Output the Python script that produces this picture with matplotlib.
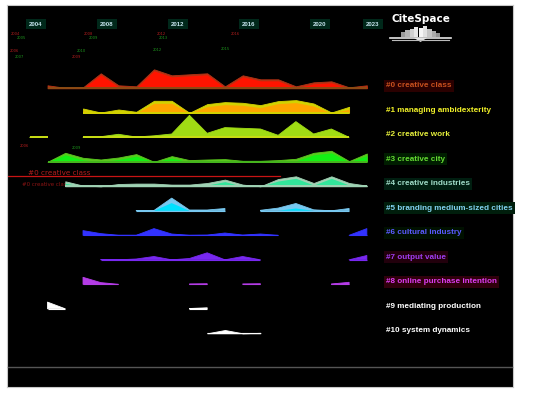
import numpy as np
import matplotlib
matplotlib.use("Agg")
import matplotlib.pyplot as plt
from matplotlib.patches import Rectangle, Polygon

nan = np.nan

# ---------------- data ----------------
year_ticks = [2004, 2008, 2012, 2016, 2020, 2023]

cluster_labels = ["#0 creative class", "#1 managing ambidexterity", "#2 creative work",
                  "#3 creative city", "#4 creative industries", "#5 branding medium-sized cities",
                  "#6 cultural industry", "#7 output value", "#8 online purchase intention",
                  "#9 mediating production", "#10 system dynamics"]

c0_years = list(range(2004, 2023))
c0_vals = [3, 0.5, 1, 15, 3, 2, 19, 13, 14, 15, 2, 13, 9, 9, 2, 6, 7, 1, 3]

c1_years = list(range(2006, 2022))
c1_vals = [4.3, 0.3, 3.3, 1, 12, 12, 0, 8.7, 10.7, 10, 7.7, 11.7, 12.7, 9.3, 0.3, 6]

c2_years = list(range(2003, 2022))
c2_vals = [0, 0.5, nan, 0, 0.6, 3, 0.3, 1.5, 3.3, 22, 4, 9.7, 9, 8.3, 2, 15.7, 3.3, 8.3, 0]

c3_years = list(range(2004, 2023))
c3_vals = [0, 9, 4, 2.3, 4.3, 7.7, 0, 5.7, 1.7, 2.3, 2.7, 1, 1, 1.7, 3, 9, 11, 0.7, 8.3]

c4_years = list(range(2005, 2023))
c4_vals = [5, 0.7, 0, 2.3, 2.7, 2.7, 1.7, 1.7, 3.3, 6.7, 1.7, 0, 7.3, 10, 3.3, 10, 3.3, 0.7]

c5_years = list(range(2009, 2022))
c5_vals = [0.3, 0.3, 12.7, 0.8, 0.8, 2.3, nan, 0.5, 2.7, 7.3, 1, 0, 2.3]

c6_years = list(range(2006, 2023))
c6_vals = [4.7, 1.7, 0, 0, 6.7, 1.3, 0, 0.2, 2.3, 0.2, 1.3, 0, nan, nan, nan, 0, 6.7]

c7_years = list(range(2007, 2023))
c7_vals = [0.3, 0, 0.8, 3.3, 0, 1.3, 7, 0, 3.3, 0, nan, nan, nan, nan, 0, 4.3]

c8_years = list(range(2006, 2022))
c8_vals = [7, 1.7, 0, nan, nan, nan, 0.3, 0.5, nan, 0.3, 0.5, nan, nan, nan, 0.3, 2]

c9_years = list(range(2004, 2014))
c9_vals = [6.7, 0, nan, nan, nan, nan, nan, nan, 0.3, 1]

c10_years = list(range(2013, 2017))
c10_vals = [0, 3.3, 0, 0.5]

clusters = [(c0_years, c0_vals), (c1_years, c1_vals), (c2_years, c2_vals), (c3_years, c3_vals),
            (c4_years, c4_vals), (c5_years, c5_vals), (c6_years, c6_vals), (c7_years, c7_vals),
            (c8_years, c8_vals), (c9_years, c9_vals), (c10_years, c10_vals)]

# ---------------- style ----------------
back_cols = ['#b43214', '#d2d200', '#a0dc14', '#5ac81e', '#a0d2b4', '#78c8f0',
             '#3232ff', '#7828f0', '#b43ce6', '#ffffff', '#ffffff']
front_cols = ['#ff1400', '#ffa500', '#96e60f', '#14f014', '#32e69b', '#00e1ff',
              '#3232ff', '#7828f0', '#b43ce6', '#ffffff', '#ffffff']
front_off = [1.5, 2.5, 0, 2, 2, 5, 0, 0, 0, 0, 0]
base_cols = ['#8c4b14', '#d2d200', '#c8dc14', '#46b41e', '#a0d2b4', '#78c8f0',
             '#3232ff', '#7828f0', '#b43ce6', '#ffffff', '#ffffff']
label_cols = ['#c8501e', '#f0f028', '#e6f03c', '#64dc32', '#a0dcc8', '#82d2f0',
              '#5a5aff', '#a03cf0', '#dc3cf0', '#ffffff', '#ffffff']
label_bg = ['#2a0000', '#000000', '#000000', '#001e00', '#001e10', '#001e0c',
            '#001000', '#22000c', '#30000c', '#000000', '#000000']

W, H = 550, 395
fig = plt.figure(figsize=(5.5, 3.95), dpi=100, facecolor='white')

px_per_year = 17.74
x_left = 2004 + (7 - 36) / px_per_year
x_right = 2004 + (513 - 36) / px_per_year

ax = fig.add_axes([7 / W, (H - 387) / H, 506 / W, 382 / H])
ax.set_facecolor('black')
ax.set_xlim(x_left, x_right)
ax.set_ylim(387, 5)
ax.set_xticks([])
ax.set_yticks([])
for s in ax.spines.values():
    s.set_color('#c8c8c8')
    s.set_linewidth(0.8)

slot = 0.65
row0 = 88.3
row_gap = 24.5

for i, (yrs, vals) in enumerate(clusters):
    x = np.array(yrs, dtype=float) + slot
    v = np.array(vals, dtype=float)
    base = row0 + row_gap * i
    ax.fill_between(x, base, base - v, color=back_cols[i], lw=0.6, ec=back_cols[i], zorder=3)
    if front_off[i] > 0:
        fv = np.where(np.isnan(v), nan, np.clip(v - front_off[i], 0, None))
        ax.fill_between(x, base, base - fv, color=front_cols[i], lw=0, zorder=4)
    bl = np.where(np.isnan(v), nan, base)
    ax.plot(x, bl, color=base_cols[i], lw=1.4 if i < 5 else 0.8, zorder=5,
            solid_capstyle='butt')
    ax.text(2023.73, base - 2.5, cluster_labels[i], color=label_cols[i], fontsize=5.9,
            fontweight='bold', family='Liberation Sans', va='center', ha='left', zorder=6,
            bbox=dict(boxstyle='square,pad=0.3', fc=label_bg[i], ec='none'))

# year labels
for yv in year_ticks:
    ax.text(yv, 24, str(yv), color='#c8e6f0', fontsize=4.3, fontweight='bold',
            family='Liberation Sans', ha='center', va='center', zorder=6,
            bbox=dict(boxstyle='square,pad=0.5', fc='#00281a', ec='none'))

# clutter node labels (tiny)
tiny = [(2002.6, 34, '2004', '#b41e1e'), (2002.9, 38, '2005', '#1e961e'),
        (2002.5, 51, '2006', '#b41e1e'), (2002.8, 57, '2007', '#1e961e'),
        (2006.7, 34, '2008', '#b41e1e'), (2007.0, 38, '2009', '#1e961e'),
        (2006.3, 51, '2010', '#1e961e'), (2006.0, 57, '2009', '#b41e1e'),
        (2010.8, 34, '2012', '#b41e1e'), (2010.9, 38, '2013', '#1e961e'),
        (2010.6, 50, '2012', '#1e961e'), (2015.0, 34, '2016', '#b41e1e'),
        (2014.4, 49, '2015', '#1e961e'), (2003.1, 146, '2006', '#b41e1e'),
        (2006.0, 148, '2009', '#1e961e')]
for tx, ty, ts, tc in tiny:
    ax.text(tx, ty, ts, color=tc, fontsize=2.6, ha='left', va='center', zorder=2)

# red annotation line with label
ax.plot([x_left, 2004 + (280 - 36) / px_per_year], [176.3, 176.3], color='#c81414', lw=0.9, zorder=2)
ax.text(2003.55, 173.3, '#0 creative class', color='#b41e1e', fontsize=5.2, ha='left', va='center', zorder=2)
ax.text(2003.2, 184.5, '#0 creative class', color='#8c1414', fontsize=4.0, ha='left', va='center', zorder=2)

# overlay for decorations (pixel coords)
ov = fig.add_axes([0, 0, 1, 1])
ov.set_xlim(0, W)
ov.set_ylim(H, 0)
ov.axis('off')
ov.patch.set_alpha(0)
ov.plot([8, 512], [367, 367], color='#555555', lw=1)
ov.text(421, 19, 'CiteSpace', color='white', fontsize=7.5, fontweight='bold',
        family='DejaVu Sans', ha='center', va='center')
bar_h = [5, 7, 8, 10, 9, 11, 8, 6, 4]
bar_c = ['#9a9a9a', '#b4b4b4', '#cfcfcf', '#e6e6e6', '#f5f5f5', '#e0e0e0', '#c4c4c4', '#aaaaaa', '#909090']
for k, (bh, bc) in enumerate(zip(bar_h, bar_c)):
    ov.add_patch(Rectangle((401 + k * 4.4, 37 - bh), 4.2, bh, fc=bc, ec='none'))
ov.plot([390, 451], [37.5, 37.5], color='#e6e6e6', lw=1.2)
ov.plot([392, 449], [39.5, 39.5], color='#bbbbbb', lw=0.8)
ov.add_patch(Polygon([[414, 38], [427, 38], [420.5, 42]], closed=True, fc='#dddddd', ec='none'))

fig.savefig('out.png', dpi=100, facecolor='white')
